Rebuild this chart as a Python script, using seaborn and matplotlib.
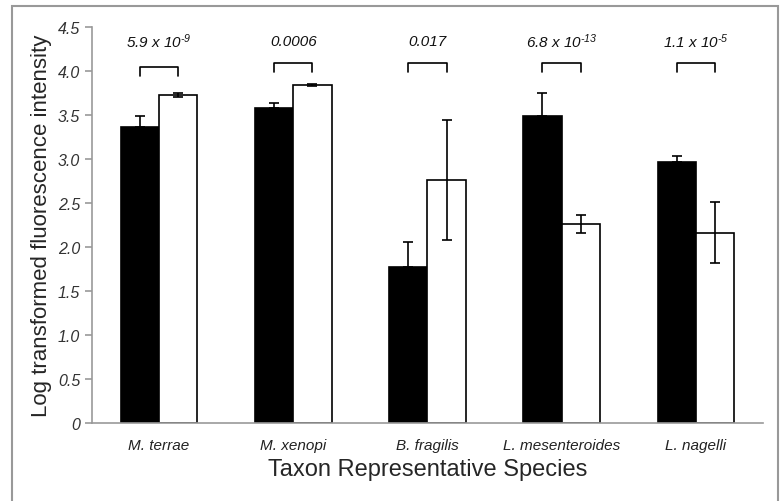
import numpy as np
import pandas as pd
import matplotlib
matplotlib.use('Agg')
import matplotlib.pyplot as plt
from matplotlib.patches import Rectangle
import seaborn as sns

species = ['M. terrae', 'M. xenopi', 'B. fragilis', 'L. mesenteroides', 'L. nagelli']
groups = ['A', 'B']
black_vals = [3.37, 3.58, 1.78, 3.49, 2.97]
black_err_up = [0.12, 0.06, 0.28, 0.26, 0.06]
white_vals = [3.73, 3.84, 2.76, 2.26, 2.16]
white_err_lo = [0.02, 0.01, 0.68, 0.10, 0.34]
white_err_up = [0.02, 0.01, 0.68, 0.10, 0.35]
p_labels = [r'5.9 x 10$^{\text{-9}}$', '0.0006', '0.017',
            r'6.8 x 10$^{\text{-13}}$', r'1.1 x 10$^{\text{-5}}$']
bracket_y = [4.05, 4.09, 4.09, 4.09, 4.09]
yticks = [0, 0.5, 1.0, 1.5, 2.0, 2.5, 3.0, 3.5, 4.0, 4.5]
ytick_labels = ['0', '0.5', '1.0', '1.5', '2.0', '2.5', '3.0', '3.5', '4.0', '4.5']

df = pd.DataFrame({
    'species': species * 2,
    'group': ['A'] * 5 + ['B'] * 5,
    'value': black_vals + white_vals,
})

sns.set_style('white')
plt.rcParams['font.family'] = ['Liberation Sans', 'DejaVu Sans']
plt.rcParams['mathtext.fontset'] = 'custom'
plt.rcParams['mathtext.it'] = 'Liberation Sans:italic'
plt.rcParams['mathtext.rm'] = 'Liberation Sans:italic'
plt.rcParams['mathtext.default'] = 'it'

fig = plt.figure(figsize=(7.8, 5.02), dpi=100)
ax = fig.add_axes([0.118, 0.155, 0.86, 0.789])

sns.barplot(data=df, x='species', y='value', hue='group', order=species,
            hue_order=groups, palette={'A': 'black', 'B': 'white'},
            width=0.57, edgecolor='black', linewidth=1.2, errorbar=None,
            legend=False, ax=ax)

# error bars from the bar centres
cont_black, cont_white = ax.containers[0], ax.containers[1]
xb = [b.get_x() + b.get_width() / 2 for b in cont_black]
xw = [b.get_x() + b.get_width() / 2 for b in cont_white]
ax.errorbar(xb, black_vals, yerr=[np.zeros(5), black_err_up], fmt='none',
            ecolor='black', elinewidth=1.2, capsize=3.5, capthick=1.2)
ax.errorbar(xw, white_vals, yerr=[white_err_lo, white_err_up], fmt='none',
            ecolor='black', elinewidth=1.2, capsize=3.5, capthick=1.2)

# brackets and p-values
for i in range(5):
    y = bracket_y[i]
    ax.plot([xb[i], xb[i], xw[i], xw[i]], [y - 0.1, y, y, y - 0.1],
            color='black', lw=1.2, clip_on=False)
    ax.text(i, 4.34, p_labels[i], ha='center', va='center',
            fontsize=11, style='italic', color='#111111')

ax.set_xlim(-0.5, 4.5)
ax.set_ylim(0, 4.5)
ax.set_yticks(yticks)
ax.set_yticklabels(ytick_labels, style='italic', fontsize=11.5, color='#333333')
ax.set_xticks(range(5))
ax.set_xticklabels(species, style='italic', fontsize=11, color='#222222')
ax.set_xticks(np.arange(-0.5, 5, 1), minor=True)
ax.tick_params(axis='x', which='major', length=0, pad=11)
ax.tick_params(axis='x', which='minor', length=4, color='#999999', width=1.2, direction='out')
ax.tick_params(axis='y', length=5, color='#999999', width=1.2, direction='out', left=True)

for side in ['top', 'right']:
    ax.spines[side].set_visible(False)
for side in ['left', 'bottom']:
    ax.spines[side].set_color('#999999')
    ax.spines[side].set_linewidth(1.2)

ax.set_xlabel('Taxon Representative Species', fontsize=17, labelpad=4)
ax.set_ylabel('Log transformed fluorescence intensity', fontsize=16, labelpad=4)

fig.patches.append(Rectangle((12 / 780, -0.05), 766 / 780, 1 - 7 / 502 + 0.05,
                             transform=fig.transFigure, fill=False,
                             edgecolor='#999999', linewidth=1.5))

fig.savefig('out.png', dpi=100)
